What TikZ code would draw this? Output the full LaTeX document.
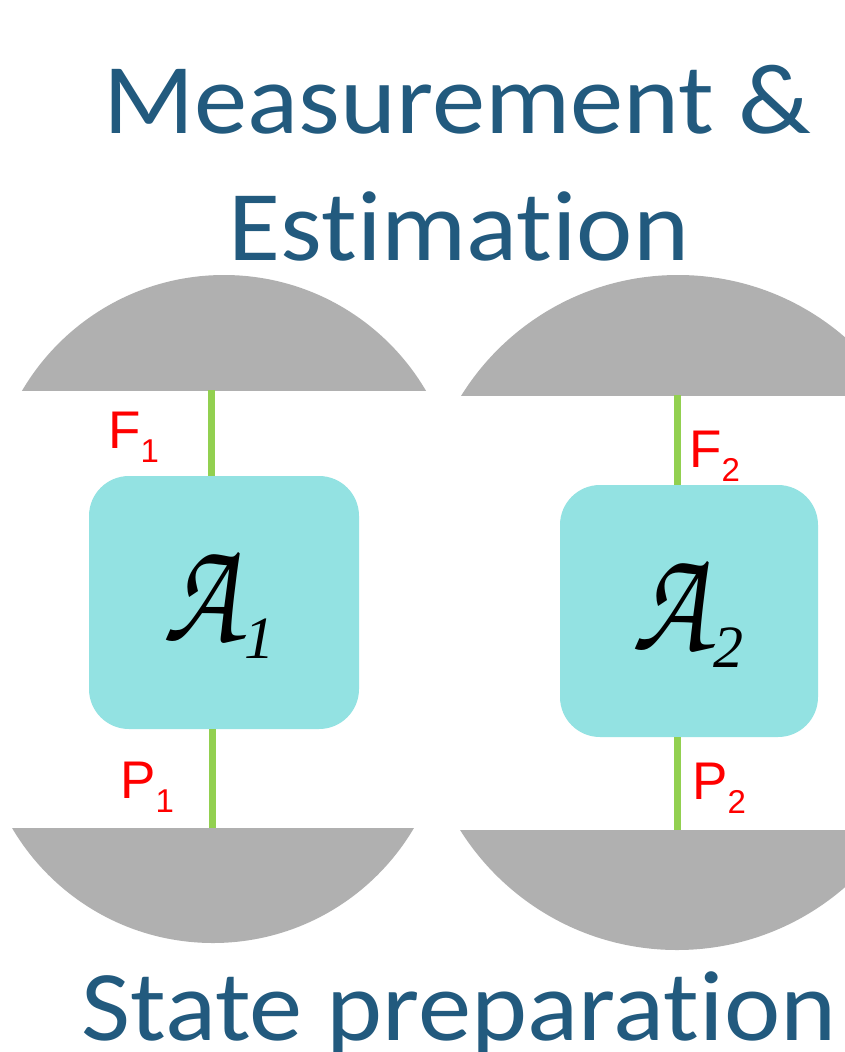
\documentclass[tikz,border=0pt]{standalone}
\usepackage{fontspec}
\setmainfont{Carlito}[Ligatures=NoCommon]
\newfontfamily\labelfont{Liberation Sans}
\newfontfamily\serifit{Liberation Serif}[ItalicFont={* Italic}]
\definecolor{titleblue}{HTML}{225A7E}
\definecolor{capgray}{HTML}{B0B0B0}
\definecolor{boxcyan}{HTML}{93E2E2}
\definecolor{wiregreen}{HTML}{92D050}
\definecolor{labred}{HTML}{FF0000}
\newcommand\chanA{\scalebox{0.97}[1.2]{\usefont{OT1}{pzc}{mb}{it}\fontsize{125}{125}\selectfont A}}
\newcommand\lbl[2]{{\labelfont\fontsize{53}{53}\selectfont #1\raisebox{-14pt}{\fontsize{33}{33}\selectfont #2}}}
\newcommand\opname[1]{\chanA\kern6pt\raisebox{-17pt}{\serifit\itshape\fontsize{60}{60}\selectfont #1}}
\newcommand\wide[1]{\scalebox{1.066}[1]{#1}}
\begin{document}
\begin{tikzpicture}[x=1pt,y=-1pt,
  title/.style={text=titleblue,font=\fontsize{100}{100}\selectfont,anchor=base,inner sep=0pt},
  opbox/.style={fill=boxcyan,rounded corners=40pt,inner sep=0pt},
  wire/.style={draw=wiregreen,line width=7pt},
  lab/.style={text=labred,anchor=base west,inner sep=0pt}]
\useasboundingbox (0,0) rectangle (845,1052);
\fill[white] (0,0) rectangle (845,1052);
% caps
\begin{scope}
  \clip (0,0) rectangle (450,390);
  \fill[capgray] (224,509) circle[radius=234pt];
\end{scope}
\begin{scope}
  \clip (0,828) rectangle (450,1052);
  \fill[capgray] (213,710) circle[radius=233pt];
\end{scope}
\begin{scope}
  \clip (450,0) rectangle (845,395);
  \fill[capgray] (678,530) circle[radius=255pt];
\end{scope}
\begin{scope}
  \clip (450,830) rectangle (845,1052);
  \fill[capgray] (677,694) circle[radius=256pt];
\end{scope}
\coordinate (m1) at (211,390);
\coordinate (s1) at (212,828);
\coordinate (m2) at (677,395);
\coordinate (s2) at (677,830);
% boxes
\node[opbox,minimum width=270pt,minimum height=253pt] (b1) at (224,602.5) {};
\node[opbox,minimum width=258pt,minimum height=252pt] (b2) at (689,611) {};
% wires
\draw[wire] (m1) -- (m1 |- b1.north);
\draw[wire] (s1) -- (s1 |- b1.south);
\draw[wire] (m2) -- (m2 |- b2.north);
\draw[wire] (s2) -- (s2 |- b2.south);
% operator labels
\node[anchor=base west,inner sep=0pt] (a1) at (163,641) {\opname{1}};
\node[anchor=base west,inner sep=0pt] (a2) at (632,650) {\opname{2}};
% wire labels
\node[lab] (f1) at (108,448) {\lbl{F}{1}};
\node[lab] (p1) at (120,798) {\lbl{P}{1}};
\node[lab] (f2) at (689,467) {\lbl{F}{2}};
\node[lab] (p2) at (692,799) {\lbl{P}{2}};
% titles
\node[title] (t1) at (457,133) {\wide{Measurement \&}};
\node[title] (t2) at (459,260) {\wide{Estimation}};
\node[title] (t3) at (459,1040) {\wide{State preparation}};
\end{tikzpicture}
\end{document}
